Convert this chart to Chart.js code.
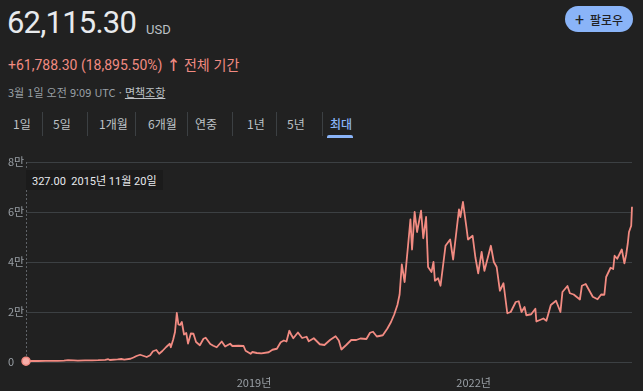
<!DOCTYPE html>
<html lang="ko">
<head>
<meta charset="utf-8">
<script src="https://cdn.jsdelivr.net/npm/chart.js@4/dist/chart.umd.min.js"></script>
<style>
  html,body{margin:0;padding:0;background:#212121;}
  body{width:643px;height:391px;position:relative;overflow:hidden;font-family:Roboto,"Noto Sans CJK KR",sans-serif;color:#e8eaed;}
  .abs{position:absolute;white-space:nowrap;}
  #price{left:7px;top:4px;font-size:31px;letter-spacing:-0.8px;color:#e8eaed;}
  #cur{left:146px;top:22px;font-size:13px;color:#bdc1c6;}
  #chg{left:8px;top:54px;font-size:14px;color:#f28b82;font-family:Roboto,"Noto Sans CJK KR",sans-serif;}
  #when{left:8px;top:84px;font-size:11px;color:#9aa0a6;font-family:"Noto Sans CJK KR",Roboto,sans-serif;}
  #when u{color:#bdc1c6;}
  #follow{left:565px;top:6px;width:68px;height:26px;border-radius:13px;background:#8ab4f8;color:#202124;font-size:12px;font-family:"Noto Sans CJK KR",sans-serif;font-weight:500;display:flex;align-items:center;justify-content:center;}
  #follow b{font-size:16px;font-weight:400;margin-right:6px;font-family:Roboto,sans-serif;}
  .tab{top:115px;font-size:12px;color:#bdc1c6;font-family:"Noto Sans CJK KR",sans-serif;}
  .sep{top:112px;width:1px;height:24px;background:#3c4043;}
  #ul{left:327px;top:135px;width:26px;height:3px;border-radius:2px 2px 0 0;background:#8ab4f8;}
  #tip{left:26px;top:170px;padding:2px 6px;font-size:11px;color:#e8eaed;background:#1b1b1b;}
  #wrap{position:absolute;left:0;top:150px;width:643px;height:241px;}
</style>
</head>
<body>
<div class="abs" id="price">62,115.30</div>
<div class="abs" id="cur">USD</div>
<div class="abs" id="chg">+61,788.30 (18,895.50%)<span style="margin-left:4px;font-weight:700">↑</span> <span style="font-family:'Noto Sans CJK KR',sans-serif">전체 기간</span></div>
<div class="abs" id="when">3월 1일 오전 9:09 UTC · <u>면책조항</u></div>
<div class="abs" id="follow"><b>+</b>팔로우</div>

<div id="tabs"></div>
<div class="abs" id="ul"></div>

<div id="wrap"><canvas id="c" width="643" height="241"></canvas></div>
<div class="abs" id="tip">327.00&nbsp;&nbsp;2015년 11월 20일</div>

<script>
// ---- data ----
const tabLabels = ['1일','5일','1개월','6개월','연중','1년','5년','최대'];
const dates = [
'2015-11-20','2015-12-20','2016-01-20','2016-02-25','2016-03-25','2016-04-28','2016-05-28','2016-06-17',
'2016-07-15','2016-08-05','2016-09-10','2016-10-15','2016-11-15','2016-12-20','2017-01-04','2017-01-12',
'2017-02-20','2017-03-10','2017-03-25','2017-04-25','2017-05-10','2017-05-25','2017-06-12','2017-07-15',
'2017-08-01','2017-08-15','2017-09-01','2017-09-15','2017-10-01','2017-10-20','2017-11-07','2017-11-12',
'2017-11-24','2017-12-03','2017-12-12','2017-12-20','2017-12-28','2018-01-06','2018-01-17','2018-01-28',
'2018-02-06','2018-02-20','2018-03-05','2018-03-18','2018-04-06','2018-04-24','2018-05-05','2018-05-28',
'2018-06-12','2018-06-29','2018-07-24','2018-08-10','2018-09-04','2018-09-15','2018-10-15','2018-11-10',
'2018-11-20','2018-12-15','2018-12-24','2019-01-15','2019-02-07','2019-03-15','2019-04-03','2019-04-25',
'2019-05-14','2019-05-30','2019-06-12','2019-06-26','2019-07-05','2019-07-16','2019-08-08','2019-08-29',
'2019-09-20','2019-10-01','2019-10-26','2019-11-25','2019-12-18','2020-01-15','2020-02-12','2020-02-28',
'2020-03-12','2020-04-05','2020-04-30','2020-05-25','2020-06-15','2020-07-15','2020-08-02','2020-08-17',
'2020-09-05','2020-10-05','2020-10-28','2020-11-15','2020-12-01','2020-12-17','2020-12-28','2021-01-08',
'2021-01-22','2021-02-08','2021-02-20','2021-02-28','2021-03-13','2021-03-25','2021-04-14','2021-04-25',
'2021-05-09','2021-05-19','2021-06-05','2021-06-15','2021-06-22','2021-07-08','2021-07-20','2021-08-14',
'2021-09-06','2021-09-21','2021-10-20','2021-10-27','2021-11-09','2021-11-26','2021-12-04','2021-12-27',
'2022-01-10','2022-01-24','2022-02-10','2022-02-24','2022-03-28','2022-04-12','2022-04-26','2022-05-12',
'2022-05-30','2022-06-18','2022-07-05','2022-07-30','2022-08-14','2022-08-28','2022-09-12','2022-09-21',
'2022-10-15','2022-11-05','2022-11-10','2022-12-15','2022-12-30','2023-01-21','2023-02-16','2023-03-10',
'2023-03-20','2023-04-14','2023-04-26','2023-05-15','2023-06-15','2023-06-25','2023-07-14','2023-07-27',
'2023-08-18','2023-09-11','2023-09-29','2023-10-15','2023-10-24','2023-11-15','2023-11-28','2023-12-05',
'2023-12-18','2024-01-10','2024-01-23','2024-02-01','2024-02-09','2024-02-15','2024-02-26','2024-03-01'
];
const prices = [
327,440,400,430,415,450,530,740,
660,575,620,640,710,860,1120,800,
1050,1200,950,1300,1800,2400,2900,2000,
2700,4300,4800,3300,4400,6000,7300,5900,
9000,12000,19600,15000,14800,16000,11000,11600,
7400,11400,11300,8000,6700,9300,9700,7200,
6500,5900,8200,6200,7300,6400,6500,6400,
4500,3300,4000,3600,3450,3900,4900,5300,
7900,8600,8200,12500,11000,9500,11800,9600,
10100,8300,9500,7100,6800,8800,10300,8600,
5000,6800,8800,8800,9400,9200,11700,12100,
10200,10700,13400,16000,19000,22800,27000,39000,
32000,46500,57000,45000,60000,52000,60500,49500,
58000,38000,36000,40000,32500,33500,30500,46500,
49000,41000,61000,58000,64000,54000,49000,50500,
41800,35500,44000,36500,46500,40000,38000,28500,
31500,19500,20000,24000,24300,20000,22000,18700,
19100,21300,16200,17400,16500,22800,24500,20000,
28000,30400,27500,27000,25000,30500,31200,29300,
26100,25100,27000,26900,34000,37700,37200,42500,
41300,45000,39500,43000,47500,52000,54500,62115.30
];
const yTickValues = [0,20000,40000,60000,80000];
const yTickLabels = ['0','2만','4만','6만','8만'];
const xTickYears = [2019,2022];
const xTickLabels = ['2019년','2022년'];

// ---- tabs ----
const tabX = [13,53,99,148,195,247,287,330];
const sepX = [42,87,135,187,232,276,322];
const tabsEl = document.getElementById('tabs');
tabLabels.forEach((t,i)=>{
  const d=document.createElement('div');d.className='abs tab';d.style.left=tabX[i]+'px';d.textContent=t;
  if(i===tabLabels.length-1){d.style.color='#8ab4f8';d.style.fontWeight='500';}
  tabsEl.appendChild(d);
});
sepX.forEach(x=>{const s=document.createElement('div');s.className='abs sep';s.style.left=x+'px';tabsEl.appendChild(s);});

// ---- chart ----
function fy(s){
  const [y,m,d]=s.split('-').map(Number);
  const t=Date.UTC(y,m-1,d), a=Date.UTC(y,0,1), b=Date.UTC(y+1,0,1);
  return y+(t-a)/(b-a);
}
const pts = dates.map((d,i)=>({x:fy(d),y:prices[i]}));

const cursor = {
  id:'cursor',
  beforeDatasetsDraw(chart){
    const ctx=chart.ctx, a=chart.chartArea;
    const x=chart.scales.x.getPixelForValue(pts[0].x);
    ctx.save();ctx.strokeStyle='#5f6368';ctx.lineWidth=1;ctx.setLineDash([2,2]);
    ctx.beginPath();ctx.moveTo(x+0.5,a.top);ctx.lineTo(x+0.5,a.bottom);ctx.stroke();ctx.restore();
  }
};

new Chart(document.getElementById('c'),{
  type:'line',
  data:{datasets:[{
    data:pts,
    borderColor:'#f28b82',borderWidth:1.8,tension:0,borderJoinStyle:'round',
    pointRadius:ctx=>ctx.dataIndex===0?4:0,
    pointBackgroundColor:'#f6aea9',pointBorderColor:'#f28b82',pointBorderWidth:1.5,
    fill:false,clip:false
  }]},
  options:{
    responsive:false,animation:false,devicePixelRatio:1,
    layout:{padding:{left:8,right:11,top:12,bottom:0}},
    plugins:{legend:{display:false},tooltip:{enabled:false}},
    scales:{
      x:{type:'linear',min:fy(dates[0]),max:fy(dates[dates.length-1]),
        grid:{display:false},border:{display:false},
        afterBuildTicks:s=>{s.ticks=xTickYears.map(v=>({value:v}));},
        afterFit:s=>{s.height=29;},
        ticks:{color:'#9aa0a6',font:{family:"'Noto Sans CJK KR',Roboto,sans-serif",size:11},padding:6,maxRotation:0,autoSkip:false,
          callback:v=>xTickLabels[xTickYears.indexOf(v)]}
      },
      y:{min:0,max:80000,
        grid:{color:'#3c4043',lineWidth:1,drawTicks:false},border:{display:false},
        afterBuildTicks:s=>{s.ticks=yTickValues.map(v=>({value:v}));},
        afterFit:s=>{s.width=18;},
        ticks:{color:'#9aa0a6',font:{family:"'Noto Sans CJK KR',Roboto,sans-serif",size:11},crossAlign:'far',padding:0,
          callback:v=>yTickLabels[yTickValues.indexOf(v)]}
      }
    }
  },
  plugins:[cursor]
});
</script>
</body>
</html>
